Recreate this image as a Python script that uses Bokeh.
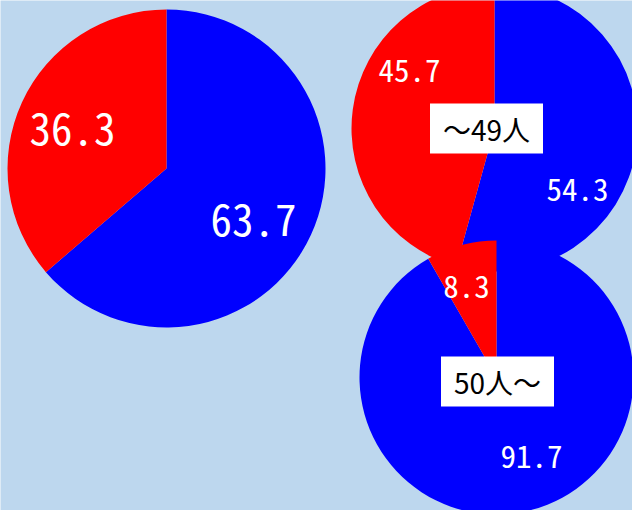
import math
from bokeh.plotting import figure
from bokeh.models import Range1d, ColumnDataSource
from bokeh.core.properties import value
from bokeh.embed import file_html
from bokeh.resources import INLINE

W, H = 632, 510

# ---- data ----
group_labels = ["", "～49人", "50人～"]
blue_values = [63.7, 54.3, 91.7]
red_values = [36.3, 45.7, 8.3]

BLUE = "#0000FF"
RED = "#FF0000"
BG = "#BDD7EE"

# ---- layout (pixel coordinates, origin top-left) ----
centers = [(166, 168), (494, 128), (496, 377)]
radii = [159, 143, 137]
blue_label_pos = [(253, 219), (577, 189), (531, 456)]
red_label_pos = [(72, 128), (409, 70), (466, 286)]
label_sizes = ["43px", "31px", "31px"]
box_pos = [None, (486, 128), (497, 381)]

p = figure(width=W, height=H, x_range=Range1d(0, W), y_range=Range1d(0, H),
           output_backend="svg", toolbar_location=None, min_border=0,
           x_axis_type=None, y_axis_type=None)
p.grid.visible = False
p.outline_line_color = None
p.background_fill_color = BG
p.border_fill_color = BG

for i in range(3):
    cx, cy = centers[i]
    b = blue_values[i]
    r = red_values[i]
    tot = b + r
    b_rad = 2 * math.pi * b / tot
    top = math.pi / 2
    # blue: clockwise from 12 o'clock
    p.wedge(x=[cx], y=[H - cy], radius=radii[i], start_angle=top - b_rad, end_angle=top,
            direction="anticlock", fill_color=BLUE, line_color=None)
    # red: the rest
    p.wedge(x=[cx], y=[H - cy], radius=radii[i], start_angle=top, end_angle=top + 2 * math.pi - b_rad,
            direction="anticlock", fill_color=RED, line_color=None)

num_font = value("Noto Sans Mono CJK JP, Noto Sans CJK JP, Liberation Sans")
for i in range(3):
    bx, by = blue_label_pos[i]
    rx, ry = red_label_pos[i]
    src = ColumnDataSource(dict(x=[bx, rx], y=[H - by, H - ry],
                                t=[f"{blue_values[i]:.1f}", f"{red_values[i]:.1f}"]))
    p.text(x="x", y="y", text="t", source=src, text_color="white",
           text_font=num_font, text_font_size=label_sizes[i],
           text_align="center", text_baseline="middle")

bxs, bys, bts = [], [], []
for i in range(3):
    if box_pos[i] is None:
        continue
    bxs.append(box_pos[i][0]); bys.append(H - box_pos[i][1]); bts.append(group_labels[i])
bsrc = ColumnDataSource(dict(x=bxs, y=bys, t=bts))
p.rect(x="x", y="y", width=113, height=50, source=bsrc, fill_color="white", line_color=None)
p.text(x="x", y="y", text="t", source=bsrc, text_color="black",
       text_font=value("Noto Sans CJK JP"), text_font_size="28px",
       text_align="center", text_baseline="middle")

open("out.html", "w").write(file_html(p, INLINE))
